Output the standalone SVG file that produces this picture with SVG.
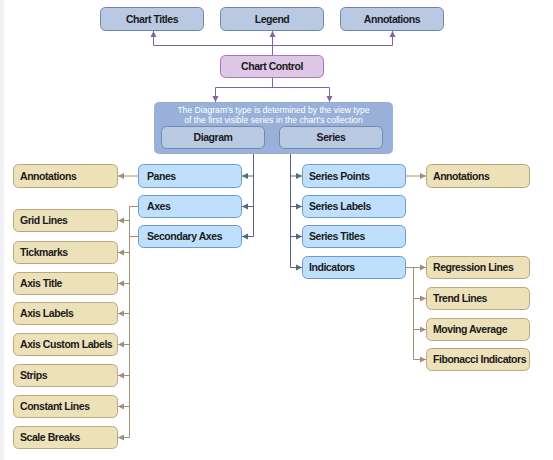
<svg xmlns="http://www.w3.org/2000/svg" width="553" height="460" viewBox="0 0 553 460">
<style>
text{font-family:"Liberation Sans",Arial,sans-serif}
.t{font-size:10.5px;font-weight:bold;fill:#1a1a1a;letter-spacing:-0.45px}
.c{text-anchor:middle}
.top{fill:#b9c9e2;stroke:#6c84ac;stroke-width:1}
.cc{fill:#dec6e6;stroke:#a778b8;stroke-width:1}
.cont{fill:#99b1d9;stroke:none}
.inner{fill:#b9c9e2;stroke:#7189b2;stroke-width:1}
.blue{fill:#bfe0fc;stroke:#6d9acb;stroke-width:1}
.tan{fill:#ede1b9;stroke:#b9a97c;stroke-width:1}
.note{font-size:8.6px;fill:#ffffff;text-anchor:middle}
.lp{fill:none;stroke:#8463a3;stroke-width:1}
.lb{fill:none;stroke:#56667e;stroke-width:1}
.lt{fill:none;stroke:#a28f7b;stroke-width:1}
</style>
<defs>
<marker id="ap" markerWidth="7" markerHeight="7" refX="6" refY="3.5" orient="auto" markerUnits="userSpaceOnUse"><path d="M0,0.5 L6,3.5 L0,6.5 z" fill="#8463a3"/></marker>
<marker id="ab" markerWidth="7" markerHeight="7" refX="6" refY="3.5" orient="auto" markerUnits="userSpaceOnUse"><path d="M0,0.5 L6,3.5 L0,6.5 z" fill="#56667e"/></marker>
<marker id="at" markerWidth="7" markerHeight="7" refX="6" refY="3.5" orient="auto" markerUnits="userSpaceOnUse"><path d="M0,0.5 L6,3.5 L0,6.5 z" fill="#a28f7b"/></marker>
</defs>
<rect x="0" y="0" width="553" height="460" fill="#ffffff"/>
<rect x="0" y="0" width="4" height="460" fill="#eef0f4"/>

<g id="connectors">
<path class="lp" d="M272.5,55 V45.5 M153.5,45.5 H392.5"/>
<path class="lp" d="M153.5,45.5 V31" marker-end="url(#ap)"/>
<path class="lp" d="M272.5,45.5 V31" marker-end="url(#ap)"/>
<path class="lp" d="M392.5,45.5 V31" marker-end="url(#ap)"/>
<path class="lp" d="M272.5,77 V87.5 M215.5,87.5 H329.5"/>
<path class="lp" d="M215.5,87.5 V102" marker-end="url(#ap)"/>
<path class="lp" d="M329.5,87.5 V102" marker-end="url(#ap)"/>

<path class="lb" d="M253.5,148 V236.5"/>
<path class="lb" d="M253.5,176 H242" marker-end="url(#ab)"/>
<path class="lb" d="M253.5,206.5 H242" marker-end="url(#ab)"/>
<path class="lb" d="M253.5,236.5 H242" marker-end="url(#ab)"/>
<path class="lb" d="M290.5,148 V267.5"/>
<path class="lb" d="M290.5,176 H302" marker-end="url(#ab)"/>
<path class="lb" d="M290.5,206.5 H302" marker-end="url(#ab)"/>
<path class="lb" d="M290.5,236.5 H302" marker-end="url(#ab)"/>
<path class="lb" d="M290.5,267.5 H302" marker-end="url(#ab)"/>

<path class="lt" d="M138,176 H118" marker-end="url(#at)"/>
<path class="lt" d="M138,206.5 H129.5 V437.5 M129.5,236.5 H138"/>
<path class="lt" d="M129.5,220.5 H118" marker-end="url(#at)"/>
<path class="lt" d="M129.5,252.5 H118" marker-end="url(#at)"/>
<path class="lt" d="M129.5,283.5 H118" marker-end="url(#at)"/>
<path class="lt" d="M129.5,313.5 H118" marker-end="url(#at)"/>
<path class="lt" d="M129.5,344.5 H118" marker-end="url(#at)"/>
<path class="lt" d="M129.5,375.5 H118" marker-end="url(#at)"/>
<path class="lt" d="M129.5,406.5 H118" marker-end="url(#at)"/>
<path class="lt" d="M129.5,437.5 H118" marker-end="url(#at)"/>

<path class="lt" d="M405,176 H426" marker-end="url(#at)"/>
<path class="lt" d="M405,267.5 H426" marker-end="url(#at)"/>
<path class="lt" d="M413.5,267.5 V359.5"/>
<path class="lt" d="M413.5,298.5 H426" marker-end="url(#at)"/>
<path class="lt" d="M413.5,329.5 H426" marker-end="url(#at)"/>
<path class="lt" d="M413.5,359.5 H426" marker-end="url(#at)"/>
</g>

<g id="chart-titles"><rect class="top" x="100.5" y="7.5" width="103" height="23" rx="5"/><text class="t c" x="152" y="22.5">Chart Titles</text></g>
<g id="legend"><rect class="top" x="220.5" y="7.5" width="103" height="23" rx="5"/><text class="t c" x="272" y="22.5">Legend</text></g>
<g id="annotations-top"><rect class="top" x="340.5" y="7.5" width="103" height="23" rx="5"/><text class="t c" x="392" y="22.5">Annotations</text></g>
<g id="chart-control"><rect class="cc" x="220.5" y="55.5" width="103" height="22" rx="5"/><text class="t c" x="272" y="70">Chart Control</text></g>

<g id="container">
<rect class="cont" x="154" y="102" width="239" height="52" rx="5"/>
<text class="note" x="273.5" y="113">The Diagram's type is determined by the view type</text>
<text class="note" x="273.5" y="123">of the first visible series in the chart's collection</text>
</g>
<g id="diagram"><rect class="inner" x="161.5" y="126.5" width="103" height="22" rx="5"/><text class="t c" x="213" y="141">Diagram</text></g>
<g id="series"><rect class="inner" x="279.5" y="126.5" width="103" height="22" rx="5"/><text class="t c" x="331" y="141">Series</text></g>

<g id="panes"><rect class="blue" x="138.5" y="164.5" width="103" height="23" rx="5"/><text class="t" x="147" y="180">Panes</text></g>
<g id="axes"><rect class="blue" x="138.5" y="195.5" width="103" height="22" rx="5"/><text class="t" x="147" y="210">Axes</text></g>
<g id="secondary-axes"><rect class="blue" x="138.5" y="225.5" width="103" height="22" rx="5"/><text class="t" x="147" y="240">Secondary Axes</text></g>

<g id="annotations-left"><rect class="tan" x="13.5" y="164.5" width="104" height="23" rx="5"/><text class="t" x="20" y="180">Annotations</text></g>
<g id="grid-lines"><rect class="tan" x="13.5" y="209.5" width="104" height="22" rx="5"/><text class="t" x="20" y="224">Grid Lines</text></g>
<g id="tickmarks"><rect class="tan" x="13.5" y="241.5" width="104" height="22" rx="5"/><text class="t" x="20" y="256">Tickmarks</text></g>
<g id="axis-title"><rect class="tan" x="13.5" y="272.5" width="104" height="22" rx="5"/><text class="t" x="20" y="287">Axis Title</text></g>
<g id="axis-labels"><rect class="tan" x="13.5" y="302.5" width="104" height="22" rx="5"/><text class="t" x="20" y="317">Axis Labels</text></g>
<g id="axis-custom-labels"><rect class="tan" x="13.5" y="333.5" width="104" height="22" rx="5"/><text class="t" x="20" y="348">Axis Custom Labels</text></g>
<g id="strips"><rect class="tan" x="13.5" y="364.5" width="104" height="22" rx="5"/><text class="t" x="20" y="379">Strips</text></g>
<g id="constant-lines"><rect class="tan" x="13.5" y="395.5" width="104" height="22" rx="5"/><text class="t" x="20" y="410">Constant Lines</text></g>
<g id="scale-breaks"><rect class="tan" x="13.5" y="426.5" width="104" height="22" rx="5"/><text class="t" x="20" y="441">Scale Breaks</text></g>

<g id="series-points"><rect class="blue" x="302.5" y="164.5" width="103" height="23" rx="5"/><text class="t" x="309" y="180">Series Points</text></g>
<g id="series-labels"><rect class="blue" x="302.5" y="195.5" width="103" height="22" rx="5"/><text class="t" x="309" y="210">Series Labels</text></g>
<g id="series-titles"><rect class="blue" x="302.5" y="225.5" width="103" height="22" rx="5"/><text class="t" x="309" y="240">Series Titles</text></g>
<g id="indicators"><rect class="blue" x="302.5" y="256.5" width="103" height="22" rx="5"/><text class="t" x="309" y="271">Indicators</text></g>

<g id="annotations-right"><rect class="tan" x="426.5" y="164.5" width="103" height="23" rx="5"/><text class="t" x="433" y="180">Annotations</text></g>
<g id="regression-lines"><rect class="tan" x="426.5" y="256.5" width="103" height="22" rx="5"/><text class="t" x="433" y="271">Regression Lines</text></g>
<g id="trend-lines"><rect class="tan" x="426.5" y="287.5" width="103" height="22" rx="5"/><text class="t" x="433" y="302">Trend Lines</text></g>
<g id="moving-average"><rect class="tan" x="426.5" y="318.5" width="103" height="22" rx="5"/><text class="t" x="433" y="333">Moving Average</text></g>
<g id="fibonacci-indicators"><rect class="tan" x="426.5" y="348.5" width="103" height="22" rx="5"/><text class="t" x="433" y="363">Fibonacci Indicators</text></g>
</svg>
